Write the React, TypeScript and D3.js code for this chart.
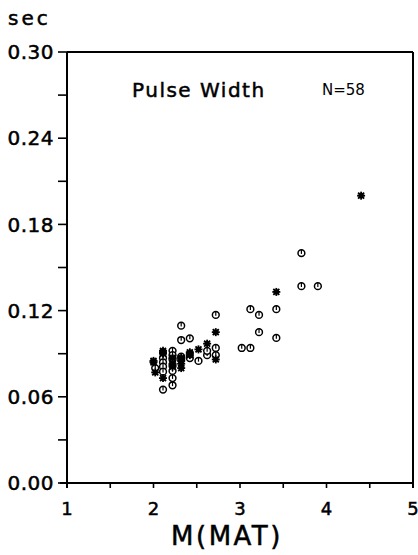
import React from "react";
import * as d3 from "d3";

const circleX = [3.71, 3.71, 3.9, 3.12, 3.22, 3.42, 3.22, 3.42, 3.02, 3.12, 2.72, 2.32, 2.32, 2.42,
  2.11, 2.11, 2.11, 2.11, 2.11, 2.22, 2.22, 2.22, 2.22, 2.22, 2.22, 2.32, 2.52, 2.62, 2.62, 2.72, 2.72, 2.02, 2.42];
const circleY = [0.16, 0.137, 0.137, 0.121, 0.117, 0.121, 0.105, 0.101, 0.094, 0.094, 0.117, 0.1095, 0.0995, 0.1007,
  0.087, 0.084, 0.081, 0.0775, 0.065, 0.092, 0.089, 0.086, 0.078, 0.073, 0.068, 0.088, 0.085, 0.089, 0.092, 0.094, 0.089, 0.08, 0.087];
const starX = [4.4, 3.42, 2.72, 2.0, 2.02, 2.11, 2.11, 2.11, 2.22, 2.22, 2.22, 2.32, 2.32, 2.32, 2.32,
  2.42, 2.42, 2.52, 2.62, 2.72, 2.0, 2.11, 2.22, 2.32, 2.42];
const starY = [0.2, 0.133, 0.105, 0.085, 0.077, 0.092, 0.09, 0.073, 0.083, 0.081, 0.087, 0.087, 0.085, 0.083, 0.08,
  0.091, 0.089, 0.093, 0.097, 0.086, 0.084, 0.091, 0.082, 0.086, 0.09];

const xTickLabels = ["1", "2", "3", "4", "5"];
const yTickLabels = ["0.00", "0.06", "0.12", "0.18", "0.24", "0.30"];

const FONT = "'DejaVu Sans', sans-serif";
const bold = { stroke: "#000", strokeWidth: 0.5 };

export default function App() {
  const x = d3.scaleLinear().domain([1, 5]).range([67, 413]);
  const y = d3.scaleLinear().domain([0, 0.3]).range([483, 52]);
  const xMinor = d3.range(1, 5.01, 0.5);
  const yMinor = d3.range(0, 0.301, 0.03);

  const circles = circleX.map((v, i) => ({ x: x(v), y: y(circleY[i]) }));
  const stars = starX.map((v, i) => ({ x: x(v), y: y(starY[i]) }));

  return (
    <svg width={418} height={555} style={{ position: "absolute", left: 0, top: 0, background: "#fff" }}>
      {/* frame */}
      <line x1={x(1)} x2={x(1)} y1={y(0.3)} y2={y(0) + 5} stroke="#000" strokeWidth={2} />
      <line x1={x(1) - 7} x2={x(5)} y1={y(0)} y2={y(0)} stroke="#000" strokeWidth={2} />
      <line x1={x(1)} x2={x(5)} y1={y(0.3)} y2={y(0.3)} stroke="#000" strokeWidth={2} />
      <line x1={x(5)} x2={x(5)} y1={y(0.3)} y2={y(0) + 5} stroke="#000" strokeWidth={2} />
      {yMinor.map((v, i) => (
        <line key={"yt" + i} x1={x(1) - 9} x2={x(1)} y1={y(v)} y2={y(v)} stroke="#000" strokeWidth={1.6} />
      ))}
      {xMinor.map((v, i) => (
        <line key={"xt" + i} x1={x(v)} x2={x(v)} y1={y(0)} y2={y(0) + 5} stroke="#000" strokeWidth={1.6} />
      ))}
      {yTickLabels.map((t, i) => (
        <text key={"yl" + i} x={54} y={y(+t)} dy="0.36em" textAnchor="end" fontFamily={FONT} fontSize={20} letterSpacing={0.5} {...bold}>
          {t}
        </text>
      ))}
      {xTickLabels.map((t, i) => (
        <text key={"xl" + i} x={x(+t)} y={515} textAnchor="middle" fontFamily={FONT} fontSize={18} {...bold}>
          {t}
        </text>
      ))}
      <text x={8} y={25} fontFamily={FONT} fontSize={20} letterSpacing={3} {...bold}>sec</text>
      <text x={227} y={545} textAnchor="middle" fontFamily={FONT} fontSize={26} letterSpacing={2.5} {...bold}>M(MAT)</text>
      <text x={132} y={97} fontFamily={FONT} fontSize={20} letterSpacing={1.5} {...bold}>Pulse Width</text>
      <text x={322} y={95} fontFamily={FONT} fontSize={15}>N=58</text>
      {circles.map((p, i) => (
        <g key={"c" + i} transform={`translate(${p.x},${p.y})`}>
          <circle r={3.4} fill="#fff" stroke="#000" strokeWidth={1.5} />
          <line x1={0} x2={0} y1={-3.4} y2={0.8} stroke="#000" strokeWidth={1.2} />
        </g>
      ))}
      {stars.map((p, i) => (
        <g key={"s" + i} transform={`translate(${p.x},${p.y})`} stroke="#000" strokeWidth={1.8}>
          <line x1={-4} x2={4} y1={0} y2={0} />
          <line x1={0} x2={0} y1={-4} y2={4} />
          <line x1={-3} x2={3} y1={-3} y2={3} />
          <line x1={-3} x2={3} y1={3} y2={-3} />
          <rect x={-2.5} y={-2.5} width={5} height={5} fill="#000" stroke="none" />
        </g>
      ))}
    </svg>
  );
}
